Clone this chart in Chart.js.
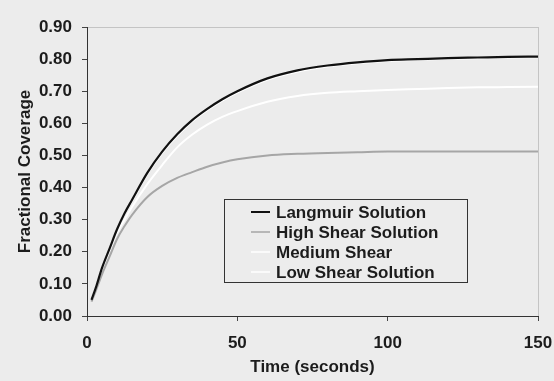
<!DOCTYPE html>
<html>
<head>
<meta charset="utf-8">
<script src="https://cdn.jsdelivr.net/npm/chart.js@4/dist/chart.umd.min.js"></script>
<style>
  html, body { margin: 0; padding: 0; background: #ececec; }
  #wrap { width: 554px; height: 381px; position: relative; }
</style>
</head>
<body>
<div id="wrap"><canvas id="c" width="554" height="381"></canvas></div>
<script>
// ---- data ----
const timeSeconds = [1.5, 3, 5, 7.5, 10, 12.5, 15, 20, 25, 30, 35, 40, 45, 50, 60, 70, 80, 90, 100, 110, 120, 130, 140, 150];
const langmuir    = [0.05, 0.09, 0.15, 0.21, 0.27, 0.32, 0.362, 0.445, 0.512, 0.566, 0.61, 0.645, 0.675, 0.70, 0.74, 0.765, 0.78, 0.79, 0.797, 0.80, 0.803, 0.805, 0.807, 0.808];
const highShear   = [0.045, 0.08, 0.13, 0.185, 0.24, 0.28, 0.315, 0.37, 0.405, 0.43, 0.448, 0.465, 0.478, 0.488, 0.50, 0.505, 0.508, 0.51, 0.512, 0.512, 0.512, 0.512, 0.512, 0.512];
const mediumShear = [0.05, 0.09, 0.145, 0.205, 0.26, 0.30, 0.34, 0.41, 0.47, 0.525, 0.565, 0.596, 0.62, 0.638, 0.667, 0.685, 0.695, 0.70, 0.704, 0.707, 0.71, 0.712, 0.713, 0.714];
const lowShear    = [0.05, 0.09, 0.148, 0.207, 0.266, 0.315, 0.357, 0.44, 0.507, 0.56, 0.605, 0.64, 0.67, 0.695, 0.735, 0.76, 0.776, 0.786, 0.793, 0.797, 0.80, 0.802, 0.804, 0.805];
const seriesNames = ["Langmuir Solution", "High Shear Solution", "Medium Shear", "Low Shear Solution"];
const xTicks = [0, 50, 100, 150];
const yTicks = [0, 0.1, 0.2, 0.3, 0.4, 0.5, 0.6, 0.7, 0.8, 0.9];
const xTitle = "Time (seconds)";
const yTitle = "Fractional Coverage";

const pts = arr => arr.map((v, i) => ({x: timeSeconds[i], y: v}));
const FONT = "'Liberation Sans', Arial, sans-serif";
const TXT = '#1c1c1c';
const BG = '#ececec';

const bgPlugin = {
  id: 'bg',
  beforeDraw(chart) {
    const ctx = chart.ctx;
    ctx.save();
    ctx.fillStyle = BG;
    ctx.fillRect(0, 0, chart.width, chart.height);
    ctx.restore();
  }
};

const legendPlugin = {
  id: 'boxLegend',
  afterDraw(chart) {
    const ctx = chart.ctx;
    const bx = 224, by = 199, bw = 243, bh = 83;
    ctx.save();
    ctx.fillStyle = BG;
    ctx.fillRect(bx, by, bw, bh);
    ctx.strokeStyle = '#333';
    ctx.lineWidth = 1;
    ctx.strokeRect(bx + 0.5, by + 0.5, bw, bh);
    ctx.font = 'bold 17px ' + FONT;
    ctx.textBaseline = 'middle';
    ctx.fillStyle = TXT;
    chart.data.datasets.forEach((ds, i) => {
      const y = by + 13 + i * 20;
      ctx.strokeStyle = ds.borderColor;
      ctx.lineWidth = i === 0 ? 2 : 1.5;
      ctx.beginPath();
      ctx.moveTo(bx + 27, y);
      ctx.lineTo(bx + 46, y);
      ctx.stroke();
      ctx.fillText(ds.label, bx + 52, y + 1);
    });
    ctx.restore();
  }
};

new Chart(document.getElementById('c'), {
  type: 'line',
  data: {
    datasets: [
      { label: seriesNames[0], data: pts(langmuir), borderColor: '#111111', borderWidth: 2.2, order: 0 },
      { label: seriesNames[1], data: pts(highShear), borderColor: '#a6a6a6', borderWidth: 2, order: 2 },
      { label: seriesNames[2], data: pts(mediumShear), borderColor: '#ffffff', borderWidth: 2, order: 3 },
      { label: seriesNames[3], data: pts(lowShear), borderColor: '#ffffff', borderWidth: 1.5, order: 4 }
    ]
  },
  options: {
    responsive: false,
    animation: false,
    devicePixelRatio: 1,
    layout: { padding: { left: 0, top: 27, right: 16, bottom: 0 } },
    elements: { point: { radius: 0 }, line: { cubicInterpolationMode: 'monotone', fill: false } },
    plugins: { legend: { display: false }, tooltip: { enabled: false } },
    scales: {
      x: {
        type: 'linear', min: 0, max: 150,
        afterBuildTicks(s) { s.ticks = xTicks.map(v => ({value: v})); },
        afterFit(s) { s.height = 65; s.paddingLeft = 0; s.paddingRight = 0; },
        ticks: { font: { family: FONT, size: 17, weight: 'bold' }, color: TXT, padding: 12, maxRotation: 0 },
        grid: {
          color: c => (c.tick && c.tick.value === 150) ? '#c4c4c4' : 'rgba(0,0,0,0)',
          tickColor: '#444', tickLength: 5, drawTicks: true
        },
        border: { color: '#333', width: 1 },
        title: { display: true, text: xTitle, font: { family: FONT, size: 17, weight: 'bold' }, color: TXT, padding: { top: 0, bottom: 3 } }
      },
      y: {
        type: 'linear', min: 0, max: 0.9,
        afterBuildTicks(s) { s.ticks = yTicks.map(v => ({value: v})); },
        afterFit(s) { s.width = 87; s.paddingTop = 0; s.paddingBottom = 0; },
        ticks: { font: { family: FONT, size: 17, weight: 'bold' }, color: TXT, padding: 10, callback: v => Number(v).toFixed(2) },
        grid: {
          color: c => (c.tick && Math.abs(c.tick.value - 0.9) < 1e-6) ? '#c4c4c4' : 'rgba(0,0,0,0)',
          tickColor: '#444', tickLength: 5, drawTicks: true
        },
        border: { color: '#333', width: 1 },
        title: { display: true, text: yTitle, font: { family: FONT, size: 17, weight: 'bold' }, color: TXT, padding: { top: 15, bottom: 0 } }
      }
    }
  },
  plugins: [bgPlugin, legendPlugin]
});
</script>
</body>
</html>
